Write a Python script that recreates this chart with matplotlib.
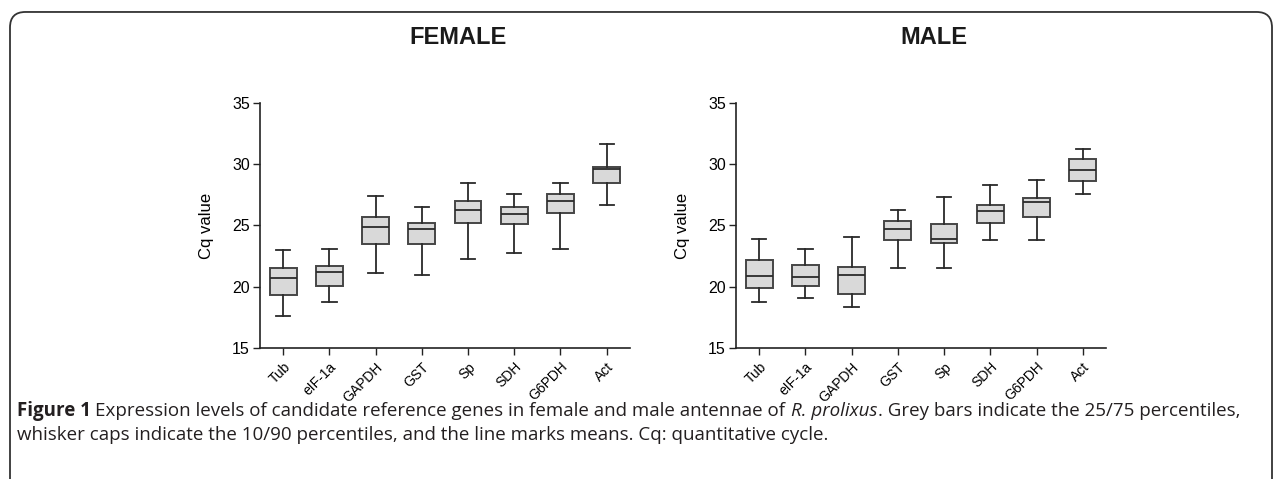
import matplotlib
matplotlib.use("Agg")
import matplotlib.pyplot as plt
from matplotlib.patches import FancyBboxPatch

plt.rcParams['font.family'] = ['Liberation Sans', 'DejaVu Sans']

genes = ['Tub', 'eIF-1a', 'GAPDH', 'GST', 'Sp', 'SDH', 'G6PDH', 'Act']

# female: 10th, 25th, median, 75th, 90th percentile
f_low = [17.6, 18.8, 21.1, 21.0, 22.3, 22.8, 23.1, 26.7]
f_q1 = [19.3, 20.1, 23.5, 23.5, 25.2, 25.1, 26.0, 28.5]
f_med = [20.7, 21.2, 24.9, 24.7, 26.3, 25.9, 27.0, 29.6]
f_q3 = [21.5, 21.7, 25.7, 25.2, 27.0, 26.5, 27.6, 29.8]
f_high = [23.0, 23.1, 27.4, 26.5, 28.5, 27.6, 28.5, 31.6]

# male
m_low = [18.8, 19.1, 18.4, 21.5, 21.5, 23.8, 23.8, 27.6]
m_q1 = [19.9, 20.1, 19.4, 23.8, 23.6, 25.2, 25.7, 28.6]
m_med = [20.9, 20.8, 21.0, 24.7, 23.9, 26.2, 26.9, 29.5]
m_q3 = [22.2, 21.8, 21.6, 25.4, 25.1, 26.7, 27.2, 30.4]
m_high = [23.9, 23.1, 24.1, 26.3, 27.3, 28.3, 28.7, 31.2]

fig = plt.figure(figsize=(12.82, 4.79), dpi=100)

# rounded frame round the panel
frame = FancyBboxPatch((0.0078, -0.1), 0.9844, 1.075,
                       boxstyle="round,pad=0,rounding_size=0.012",
                       transform=fig.transFigure, fill=False,
                       edgecolor='#333333', linewidth=1.3, mutation_aspect=2.7)
fig.patches.append(frame)


def draw_panel(left, title, title_x, low, q1, med, q3, high):
    ax = fig.add_axes([left, 0.2729, 0.2885, 0.5127])
    stats = []
    for i in range(len(genes)):
        stats.append({'whislo': low[i], 'q1': q1[i], 'med': med[i],
                      'q3': q3[i], 'whishi': high[i], 'fliers': []})
    ax.bxp(stats, positions=range(1, len(genes) + 1), widths=0.58,
           patch_artist=True, showfliers=False,
           boxprops=dict(facecolor='#d9d9d9', edgecolor='#454545', linewidth=1.4),
           medianprops=dict(color='#2a2a2a', linewidth=1.3),
           whiskerprops=dict(color='#2a2a2a', linewidth=1.3),
           capprops=dict(color='#2a2a2a', linewidth=1.3),
           capwidths=0.31)
    ax.set_xlim(0.5, 8.5)
    ax.set_ylim(15, 35)
    ax.set_yticks([15, 20, 25, 30, 35])
    ax.set_xticks(range(1, len(genes) + 1))
    ax.set_xticklabels(genes, rotation=45, ha='right', va='top',
                       rotation_mode='anchor', fontsize=10)
    ax.tick_params(axis='y', labelsize=11.5, length=4.8, width=1, direction='out',
                   color='#222222', pad=2.4)
    ax.tick_params(axis='x', length=4.8, width=1, direction='out', color='#222222', pad=3.5)
    for s in ['top', 'right']:
        ax.spines[s].set_visible(False)
    for s in ['left', 'bottom']:
        ax.spines[s].set_linewidth(1.2)
        ax.spines[s].set_color('#222222')
    ax.set_ylabel('Cq value', fontsize=12, labelpad=13)
    fig.text(title_x, 0.922, title, ha='center', va='center',
             fontsize=17, fontweight='bold', color='#1a1a1a')
    return ax


draw_panel(0.2028, 'FEMALE', 0.357, f_low, f_q1, f_med, f_q3, f_high)
draw_panel(0.5741, 'MALE', 0.7286, m_low, m_q1, m_med, m_q3, m_high)

cap_font = ['Open Sans', 'DejaVu Sans']
cap_size = 13.5
line1_y = 0.143
line2_y = 0.092
x0 = 0.0135
t = fig.text(x0, line1_y, 'Figure 1', fontsize=cap_size, fontweight='bold',
             family=cap_font, color='#231f20', va='center')
fig.canvas.draw()
r = fig.canvas.get_renderer()
bb = t.get_window_extent(r)
x1 = (bb.x1 + 4) / fig.bbox.width
t2 = fig.text(x1, line1_y, 'Expression levels of candidate reference genes in female and male antennae of ',
              fontsize=cap_size, family=cap_font, color='#231f20', va='center')
bb = t2.get_window_extent(r)
x2 = (bb.x1 + 1) / fig.bbox.width
t3 = fig.text(x2, line1_y, 'R. prolixus', fontsize=cap_size, style='italic',
              family=cap_font, color='#231f20', va='center')
bb = t3.get_window_extent(r)
x3 = (bb.x1) / fig.bbox.width
fig.text(x3, line1_y, '. Grey bars indicate the 25/75 percentiles,',
         fontsize=cap_size, family=cap_font, color='#231f20', va='center')
fig.text(x0, line2_y, 'whisker caps indicate the 10/90 percentiles, and the line marks means. Cq: quantitative cycle.',
         fontsize=cap_size, family=cap_font, color='#231f20', va='center')

fig.savefig('out.png', dpi=100)
